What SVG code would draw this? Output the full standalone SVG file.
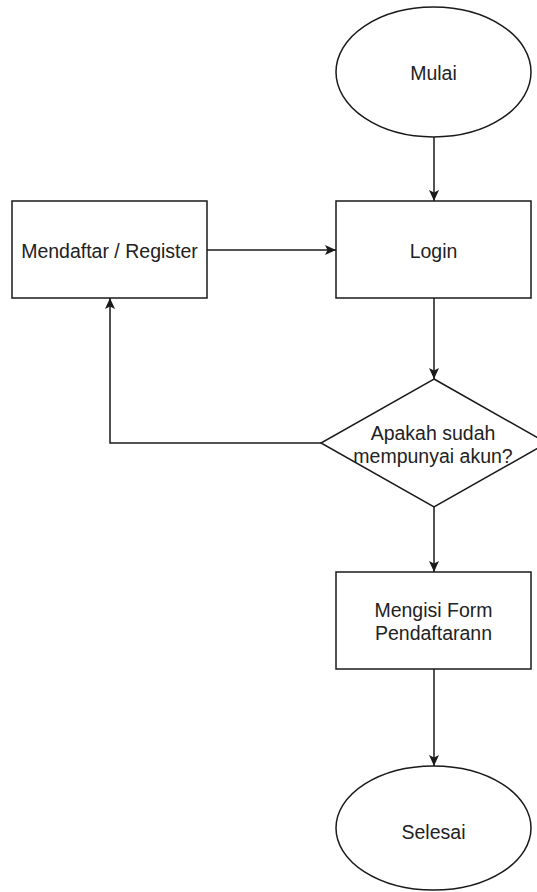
<svg xmlns="http://www.w3.org/2000/svg" width="537" height="892" viewBox="0 0 537 892">
  <style>
    .shape { fill: #ffffff; stroke: #1a1a1a; stroke-width: 1.5; }
    .edge { fill: none; stroke: #1a1a1a; stroke-width: 1.5; }
    .label { font-family: "Liberation Sans", Arial, sans-serif; font-size: 19.5px; fill: #222222; text-anchor: middle; dominant-baseline: central; }
  </style>
  <defs>
    <marker id="arrow" viewBox="0 0 11 10" refX="11" refY="5" markerWidth="11" markerHeight="10" markerUnits="userSpaceOnUse" orient="auto">
      <path d="M0,0 L11,5 L0,10 L2.5,5 z" fill="#1a1a1a"/>
    </marker>
  </defs>
  <rect width="537" height="892" fill="#ffffff"/>

  <g id="connectors">
    <line class="edge" x1="434" y1="137" x2="434" y2="201" marker-end="url(#arrow)"/>
    <line class="edge" x1="207" y1="250" x2="336" y2="250" marker-end="url(#arrow)"/>
    <line class="edge" x1="434" y1="298" x2="434" y2="379" marker-end="url(#arrow)"/>
    <polyline class="edge" points="321,443 110,443 110,298" marker-end="url(#arrow)"/>
    <line class="edge" x1="434" y1="507" x2="434" y2="572" marker-end="url(#arrow)"/>
    <line class="edge" x1="434" y1="669" x2="434" y2="766" marker-end="url(#arrow)"/>
  </g>

  <g id="mulai">
    <ellipse class="shape" cx="433.5" cy="72" rx="97.5" ry="65"/>
    <text class="label" x="433.5" y="73">Mulai</text>
  </g>

  <g id="register">
    <rect class="shape" x="12" y="201" width="195" height="97"/>
    <text class="label" x="109.5" y="251">Mendaftar / Register</text>
  </g>

  <g id="login">
    <rect class="shape" x="336" y="201" width="195" height="97"/>
    <text class="label" x="433.5" y="251">Login</text>
  </g>

  <g id="cek-akun">
    <polygon class="shape" points="434,379 547,443 434,507 321,443"/>
    <text class="label" x="433" y="433">Apakah sudah</text>
    <text class="label" x="433" y="456">mempunyai akun?</text>
  </g>

  <g id="form-pendaftaran">
    <rect class="shape" x="336" y="572" width="195" height="97"/>
    <text class="label" x="433.5" y="610">Mengisi Form</text>
    <text class="label" x="433.5" y="633">Pendaftarann</text>
  </g>

  <g id="selesai">
    <ellipse class="shape" cx="433.5" cy="828" rx="97.5" ry="62"/>
    <text class="label" x="433.5" y="832">Selesai</text>
  </g>
</svg>
